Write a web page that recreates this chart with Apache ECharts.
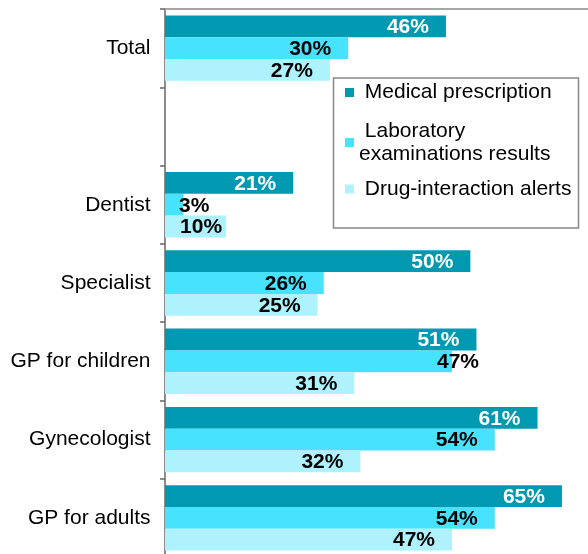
<!DOCTYPE html>
<html>
<head>
<meta charset="utf-8">
<script src="https://cdn.jsdelivr.net/npm/echarts@6/dist/echarts.min.js"></script>
<style>
html,body{margin:0;padding:0;background:#fff;}
#chart{width:588px;height:554px;}
</style>
</head>
<body>
<div id="chart"></div>
<script>
// ---- data ----
const categories = ['Total', '', 'Dentist', 'Specialist', 'GP for children', 'Gynecologist', 'GP for adults'];
const seriesNames = ['Medical prescription', 'Laboratory examinations results', 'Drug-interaction alerts'];
const medicalPrescription = [46, null, 21, 50, 51, 61, 65];
const laboratoryResults = [30, null, 3, 26, 47, 54, 54];
const drugInteraction = [27, null, 10, 25, 31, 32, 47];

// ---- styling ----
const FONT = 'Liberation Sans, Arial, Helvetica, sans-serif';
const colors = ['#0099B2', '#47E2FE', '#ADF2FC'];
const labelColors = ['#ffffff', '#000000', '#000000'];
// horizontal label nudges (px) for labels placed manually in the original
const labelNudge = [{}, {2: 43, 4: 44}, {2: 13}];

function buildData(values, si) {
  return values.map((v, i) => {
    if (labelNudge[si][i] !== undefined) {
      return { value: v, label: { offset: [labelNudge[si][i], 1] } };
    }
    return v;
  });
}

const seriesValues = [medicalPrescription, laboratoryResults, drugInteraction];
const series = seriesValues.map((vals, si) => ({
  name: seriesNames[si],
  type: 'bar',
  data: buildData(vals, si),
  barGap: '0%',
  barCategoryGap: '16.5%',
  itemStyle: { color: colors[si] },
  label: {
    show: true,
    position: 'insideRight',
    distance: 17,
    offset: [0, 1],
    formatter: p => p.value == null ? '' : p.value + '%',
    color: labelColors[si],
    fontFamily: FONT,
    fontWeight: 'bold',
    fontSize: 21
  },
  emphasis: { disabled: true },
  animation: false
}));

const legendBase = {
  orient: 'vertical',
  left: 345,
  padding: 0,
  itemWidth: 9,
  itemHeight: 9,
  icon: 'rect',
  selectedMode: false,
  textStyle: { fontFamily: FONT, fontSize: 21, color: '#000', lineHeight: 23 }
};

const option = {
  backgroundColor: '#fff',
  animation: false,
  grid: { left: 165, width: 427.5, top: 9, height: 548, containLabel: false, outerBoundsMode: 'none' },
  xAxis: {
    type: 'value',
    position: 'top',
    min: 0,
    max: 70,
    axisLine: { show: true, lineStyle: { color: '#a6a6a6', width: 2 } },
    axisTick: { show: false },
    axisLabel: { show: false },
    splitLine: { show: false }
  },
  yAxis: {
    type: 'category',
    data: categories,
    inverse: true,
    offset: 1.5,
    axisLine: { show: true, lineStyle: { color: '#666666', width: 1.5 } },
    axisTick: { show: true, length: 5, inside: false, lineStyle: { color: '#666666', width: 1.5 } },
    axisLabel: { margin: 13, color: '#000', fontFamily: FONT, fontSize: 21 }
  },
  legend: [
    Object.assign({}, legendBase, {
      top: 81,
      data: [seriesNames[0]],
      formatter: () => ' Medical prescription'
    }),
    Object.assign({}, legendBase, {
      top: 108,
      data: [seriesNames[1]],
      formatter: () => ' Laboratory\nexaminations results',
      textStyle: Object.assign({}, legendBase.textStyle, { padding: [23, 0, 0, 0] })
    }),
    Object.assign({}, legendBase, {
      top: 177.5,
      data: [seriesNames[2]],
      formatter: () => ' Drug-interaction alerts'
    })
  ],
  graphic: [{
    type: 'rect',
    z: 100,
    silent: true,
    shape: { x: 333.5, y: 78, width: 245, height: 150 },
    style: { fill: 'transparent', stroke: '#888888', lineWidth: 1.5 }
  }],
  series: series
};

const chart = echarts.init(document.getElementById('chart'), null, { renderer: 'canvas' });
chart.setOption(option);
</script>
</body>
</html>
